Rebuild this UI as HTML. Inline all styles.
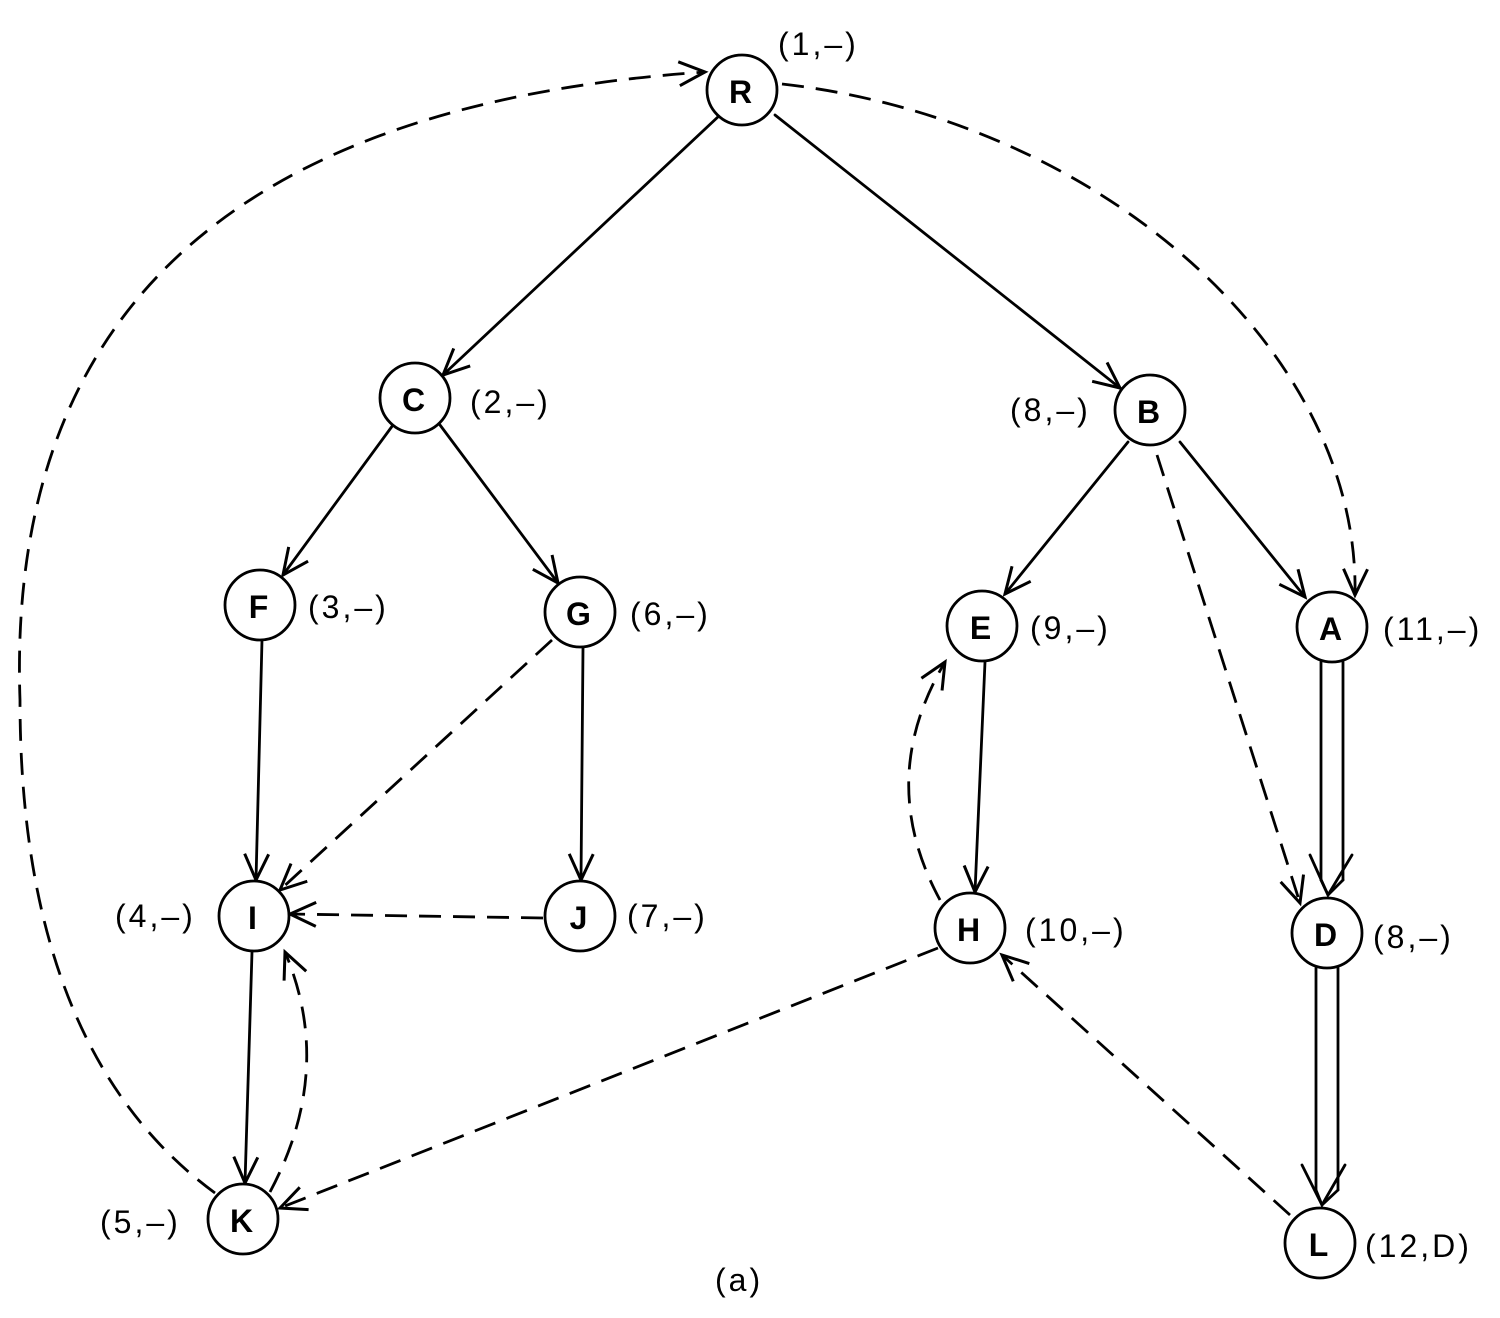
<!DOCTYPE html>
<html><head><meta charset="utf-8"><style>
html,body{margin:0;padding:0;background:#fff;}
svg{display:block;}
text{font-family:"Liberation Sans",sans-serif;font-size:32px;fill:#000;letter-spacing:3px;}
</style></head><body>
<svg width="1500" height="1318" viewBox="0 0 1500 1318" xmlns="http://www.w3.org/2000/svg">
<defs>
<marker id="a" markerUnits="userSpaceOnUse" markerWidth="40" markerHeight="40" refX="28" refY="14" orient="auto">
<path d="M2,2 L28,14 L2,26" fill="none" stroke="#000" stroke-width="3"/>
</marker>
</defs>
<g fill="none" stroke="#000" stroke-width="2.8" stroke-linecap="round">
<line x1="720" y1="115" x2="443" y2="375" marker-end="url(#a)"/>
<line x1="775" y1="115" x2="1120" y2="388" marker-end="url(#a)"/>
<line x1="393" y1="425" x2="283" y2="575" marker-end="url(#a)"/>
<line x1="440" y1="425" x2="558" y2="583" marker-end="url(#a)"/>
<line x1="262" y1="640" x2="256" y2="880" marker-end="url(#a)"/>
<line x1="583" y1="648" x2="581" y2="880" marker-end="url(#a)"/>
<line x1="252" y1="952" x2="245" y2="1183" marker-end="url(#a)"/>
<line x1="1128" y1="442" x2="1005" y2="594" marker-end="url(#a)"/>
<line x1="1180" y1="442" x2="1305" y2="597" marker-end="url(#a)"/>
<line x1="985" y1="662" x2="975" y2="892" marker-end="url(#a)"/>
<line x1="1321" y1="662" x2="1321" y2="880"/>
<line x1="1343" y1="662" x2="1343" y2="880"/>
<path d="M1321,880 L1328,895 L1343,880" />
<path d="M1310,855 L1328,895 L1352,855"/>
<line x1="1316" y1="968" x2="1316" y2="1190"/>
<line x1="1338" y1="968" x2="1338" y2="1190"/>
<path d="M1316,1190 L1322,1205 L1338,1190"/>
<path d="M1302,1165 L1322,1205 L1345,1165"/>
</g>
<g fill="none" stroke="#000" stroke-width="2.8" stroke-dasharray="22,12">
<path d="M215,1193 Q 20,1050 20,700 Q 0,120 705,72" marker-end="url(#a)"/>
<path d="M782,84 C 1100,120 1360,350 1355,595" marker-end="url(#a)"/>
<line x1="552" y1="640" x2="280" y2="890" marker-end="url(#a)"/>
<line x1="543" y1="918" x2="290" y2="914" marker-end="url(#a)"/>
<path d="M270,1192 Q335,1070 285,952" marker-end="url(#a)"/>
<path d="M940,900 Q875,780 945,662" marker-end="url(#a)"/>
<line x1="1157" y1="455" x2="1300" y2="903" marker-end="url(#a)"/>
<line x1="938" y1="948" x2="280" y2="1208" marker-end="url(#a)"/>
<line x1="1290" y1="1215" x2="1002" y2="955" marker-end="url(#a)"/>
</g>
<g fill="#fff" stroke="#000" stroke-width="2.8">
<circle cx="742" cy="90" r="35"/>
<circle cx="415" cy="398" r="35"/>
<circle cx="1150" cy="410" r="35"/>
<circle cx="260" cy="605" r="35"/>
<circle cx="580" cy="612" r="35"/>
<circle cx="982" cy="626" r="35"/>
<circle cx="1332" cy="627" r="35"/>
<circle cx="254" cy="916" r="35"/>
<circle cx="580" cy="916" r="35"/>
<circle cx="970" cy="928" r="35"/>
<circle cx="1327" cy="933" r="35"/>
<circle cx="243" cy="1219" r="35"/>
<circle cx="1320" cy="1243" r="35"/>
</g>
<g text-anchor="middle" dominant-baseline="central" style="letter-spacing:0;font-weight:600">
<text x="742" y="92">R</text>
<text x="415" y="400">C</text>
<text x="1150" y="412">B</text>
<text x="260" y="607">F</text>
<text x="580" y="614">G</text>
<text x="982" y="628">E</text>
<text x="1332" y="629">A</text>
<text x="254" y="918">I</text>
<text x="580" y="918">J</text>
<text x="970" y="930">H</text>
<text x="1327" y="935">D</text>
<text x="243" y="1221">K</text>
<text x="1320" y="1245">L</text>
</g>
<g dominant-baseline="central">
<text x="778" y="44">(1,–)</text>
<text x="470" y="402">(2,–)</text>
<text x="1010" y="410">(8,–)</text>
<text x="308" y="607">(3,–)</text>
<text x="630" y="614">(6,–)</text>
<text x="1030" y="628">(9,–)</text>
<text x="1383" y="629">(11,–)</text>
<text x="115" y="916">(4,–)</text>
<text x="627" y="916">(7,–)</text>
<text x="1025" y="930">(10,–)</text>
<text x="1373" y="937">(8,–)</text>
<text x="100" y="1222">(5,–)</text>
<text x="1365" y="1246">(12,D)</text>
<text x="715" y="1280">(a)</text>
</g>
</svg>
</body></html>
